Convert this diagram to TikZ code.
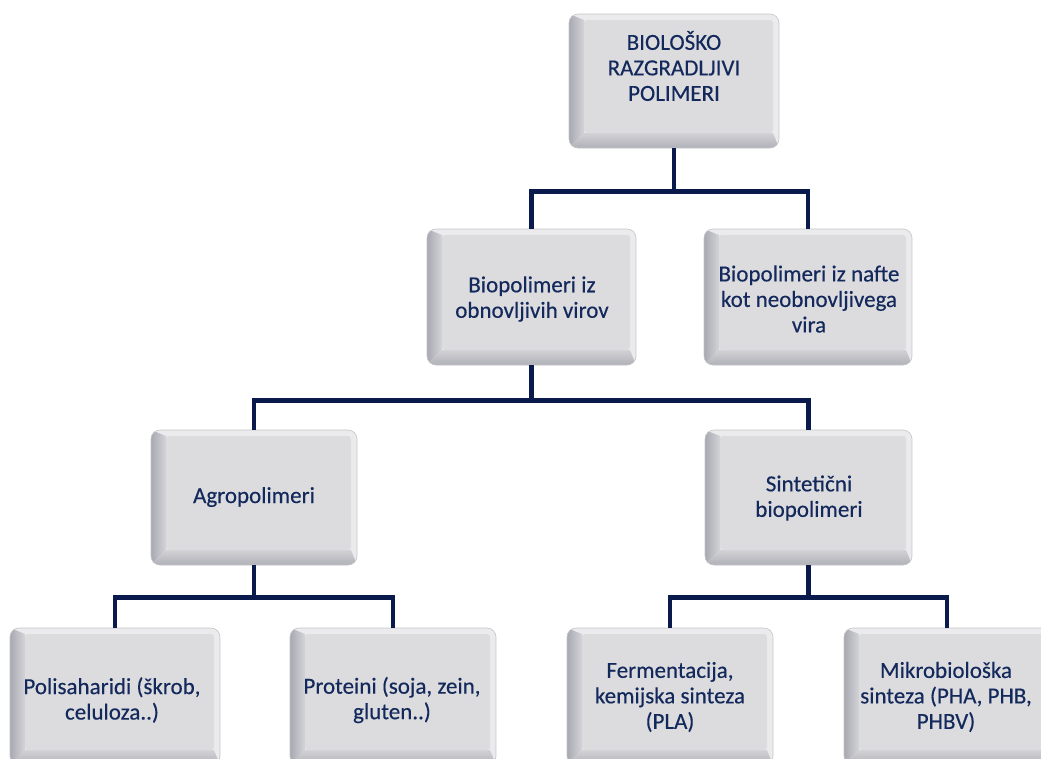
\documentclass[tikz,border=0pt]{standalone}
\usepackage{fontspec}
\setmainfont{Carlito}[FakeBold=0.35]
\usetikzlibrary{fit,calc}
\definecolor{navy}{HTML}{14295B}
\definecolor{connc}{HTML}{0B1A4C}
\definecolor{bevlight}{HTML}{EBEBED}
\definecolor{bevface}{HTML}{DCDCDF}
\definecolor{bevLa}{HTML}{A8A8B2}
\definecolor{bevLb}{HTML}{D4D4D8}
\definecolor{bevBa}{HTML}{B0B0B8}
\definecolor{bevBb}{HTML}{D2D2D6}
\definecolor{bevline}{HTML}{C4C4C8}
\tikzset{
  boxtext/.style={text=navy, align=center, font=\fontsize{23}{25.5}\selectfont, inner sep=0pt},
  boxframe/.style={inner sep=0pt, rounded corners=9pt, draw=bevline, line width=0.6pt},
  conn/.style={draw=connc, line width=4.5pt, line cap=butt, line join=miter}
}
\newcommand\bevbox[7]{%
  \begin{scope}
    \clip[rounded corners=9pt] (#2,#3) rectangle (#4,#5);
    \fill[bevlight] (#2,#3) rectangle (#4,#5);
    \shade[left color=bevLa, right color=bevLb] (#2,#3) -- (#2+15,#3+6) -- (#2+15,#5-15) -- (#2,#5) -- cycle;
    \shade[bottom color=bevBa, top color=bevBb] (#2,#5) -- (#2+15,#5-15) -- (#4-6,#5-15) -- (#4,#5) -- cycle;
    \fill[bevface, rounded corners=3pt] (#2+15,#3+6) rectangle (#4-6,#5-15);
  \end{scope}
  \node[boxframe, fit={(#2,#3) (#4,#5)}] (#1) {};
  \node[boxtext] (#1t) at (#6) {#7};
}
\begin{document}
\begin{tikzpicture}[x=1pt,y=-1pt]
\useasboundingbox (0,0) rectangle (1041,758);
\clip (0,0) rectangle (1041,758);
\fill[white] (0,0) rectangle (1041,758);

\bevbox{top}{569}{14}{779}{148}{674,66}{BIOLOŠKO\\RAZGRADLJIVI\\POLIMERI}
\bevbox{obn}{427}{229}{636}{365}{532,299}{Biopolimeri iz\\obnovljivih virov}
\bevbox{naf}{704}{229}{912}{365}{809,299}{Biopolimeri iz nafte\\kot neobnovljivega\\vira}
\bevbox{agro}{151}{430}{357}{565}{254,497}{Agropolimeri}
\bevbox{sint}{705}{430}{912}{565}{809,498}{Sintetični\\biopolimeri}
\bevbox{pol}{10}{628}{220}{765}{112,700}{Polisaharidi (škrob,\\celuloza..)}
\bevbox{pro}{290}{628}{496}{765}{392,700}{Proteini (soja, zein,\\gluten..)}
\bevbox{fer}{567}{628}{773}{765}{670,697}{Fermentacija,\\kemijska sinteza\\(PLA)}
\bevbox{mik}{844}{628}{1050}{765}{946,697}{Mikrobiološka\\sinteza (PHA, PHB,\\PHBV)}

\draw[conn] (top.south) -- ++(0,43) coordinate (j1);
\draw[conn] (obn.north) |- (j1) -| (naf.north);
\draw[conn] (obn.south) -- ++(0,35) coordinate (j2);
\draw[conn] (agro.north) |- (j2) -| (sint.north);
\draw[conn] (agro.south) -- ++(0,32) coordinate (j3);
\draw[conn] (pol.north) |- (j3) -| (pro.north);
\draw[conn] (sint.south) -- ++(0,32) coordinate (j4);
\draw[conn] (fer.north) |- (j4) -| (mik.north);
\end{tikzpicture}
\end{document}
